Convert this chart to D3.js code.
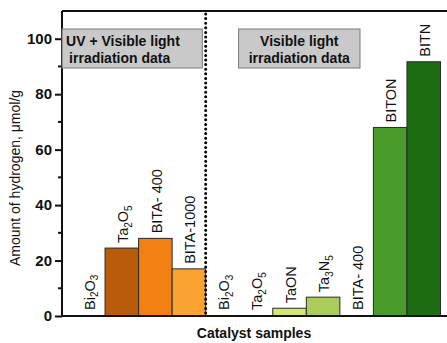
<!DOCTYPE html>
<html><head><meta charset="utf-8">
<script src="https://cdn.jsdelivr.net/npm/d3@7"></script>
<style>body{margin:0;background:#fff}svg{display:block;font-family:Arial,"Liberation Sans",sans-serif}</style>
</head><body><svg id="c" width="447" height="343"></svg>
<script>
const labels = ["Bi_2O_3","Ta_2O_5","BITA- 400","BITA-1000","Bi_2O_3","Ta_2O_5","TaON","Ta_3N_5","BITA- 400","BITON","BITN"];
const values = [0, 24.5, 28.0, 17.0, 0, 0, 2.8, 6.8, 0, 68.0, 91.7];
const colors = ["#b85c0c","#b85c0c","#f28012","#f9a331","#d6e470","#d6e470","#d6e470","#a9cc5b","#a9cc5b","#4a9a2c","#1d6e13"];
const yTicks = [0, 20, 40, 60, 80, 100];
const yMinor = [10, 30, 50, 70, 90];
const boxes = [
  {lines:["UV + Visible light","irradiation data"], x0:-0.28, x1:3.9, anchor:"start"},
  {lines:["Visible light","irradiation data"], x0:4.98, x1:8.6, anchor:"middle"}
];
const yLabel = "Amount of hydrogen, μmol/g";
const xLabel = "Catalyst samples";

const svg = d3.select("#c");
const L = 62, T = 11, B = 316, R = 455;
const idx = d3.range(labels.length);
const x = d3.scaleBand().domain(idx).range([71.5, 440.5]).padding(0);
const y = d3.scaleLinear().domain([0, 110]).range([B, T]);
const xl = d3.scaleLinear().domain([0, labels.length]).range([71.5, 440.5]);

// bars
svg.append("g").selectAll("rect").data(idx).join("rect")
  .attr("x", i => x(i)).attr("width", x.bandwidth())
  .attr("y", i => y(values[i])).attr("height", i => y(0) - y(values[i]))
  .attr("fill", i => colors[i]).attr("stroke", "#2a2a2a").attr("stroke-width", 1)
  .style("display", i => values[i] > 0 ? null : "none");

// frame
svg.append("line").attr("x1", L).attr("x2", R).attr("y1", T).attr("y2", T).attr("stroke", "#111").attr("stroke-width", 2);
// dotted divider
svg.append("line").attr("x1", xl(4)).attr("x2", xl(4)).attr("y1", T + 3).attr("y2", B)
  .attr("stroke", "#000").attr("stroke-width", 3).attr("stroke-linecap", "round").attr("stroke-dasharray", "0,4.6");

// y axis
const ya = svg.append("g").attr("transform", `translate(${L},0)`)
  .call(d3.axisLeft(y).tickValues(yTicks).tickSize(7).tickPadding(3));
ya.select(".domain").attr("stroke", "#111").attr("stroke-width", 2).attr("d", `M0,${T}V${B}`);
ya.selectAll(".tick line").attr("stroke", "#111").attr("stroke-width", 2);
ya.selectAll(".tick text").attr("font-size", 15).attr("font-weight", "bold").attr("fill", "#111").attr("font-family", "Arial, 'Liberation Sans', sans-serif");
svg.append("g").selectAll("line").data(yMinor).join("line")
  .attr("x1", L - 4).attr("x2", L).attr("y1", d => y(d)).attr("y2", d => y(d))
  .attr("stroke", "#111").attr("stroke-width", 2);
// x baseline
svg.append("line").attr("x1", L - 1).attr("x2", R).attr("y1", B).attr("y2", B).attr("stroke", "#111").attr("stroke-width", 2);

// bar labels
function addLabel(sel, s) {
  const parts = s.split(/(_\d)/).filter(p => p.length);
  let sub = false;
  parts.forEach(p => {
    if (p[0] === "_") {
      sel.append("tspan").attr("dy", 4).attr("font-size", 10).text(p.slice(1));
      sub = true;
    } else {
      const t = sel.append("tspan").text(p);
      if (sub) { t.attr("dy", -4); sub = false; }
    }
  });
}
svg.append("g").selectAll("text").data(idx).join("text")
  .attr("transform", i => `translate(${x(i) + x.bandwidth() / 2 + 1},${y(values[i]) - (values[i] > 0 ? 5 : 6)}) rotate(-90)`)
  .attr("dy", "0.36em").attr("font-size", 14.5).attr("fill", "#111").attr("text-anchor", "start")
  .each(function(i) { addLabel(d3.select(this), labels[i]); });

// annotation boxes
boxes.forEach(b => {
  const bx0 = xl(b.x0), bx1 = xl(b.x1);
  svg.append("rect").attr("x", bx0).attr("y", 29).attr("width", bx1 - bx0).attr("height", 39)
    .attr("fill", "#c9c9c9").attr("stroke", "#7a7a7a").attr("stroke-width", 1);
  b.lines.forEach((ln, k) => {
    svg.append("text").attr("x", b.anchor === "start" ? bx0 + 4 + k * 3 : (bx0 + bx1) / 2)
      .attr("y", 46 + k * 17).attr("text-anchor", b.anchor)
      .attr("font-size", 14).attr("font-weight", "bold").attr("fill", "#111").text(ln);
  });
});

// axis titles
svg.append("text").attr("transform", `translate(20,178) rotate(-90)`)
  .attr("text-anchor", "middle").attr("font-size", 14).attr("fill", "#111").text(yLabel);
svg.append("text").attr("x", 254).attr("y", 338).attr("text-anchor", "middle")
  .attr("font-size", 14).attr("font-weight", "bold").attr("fill", "#111").text(xLabel);
</script></body></html>
